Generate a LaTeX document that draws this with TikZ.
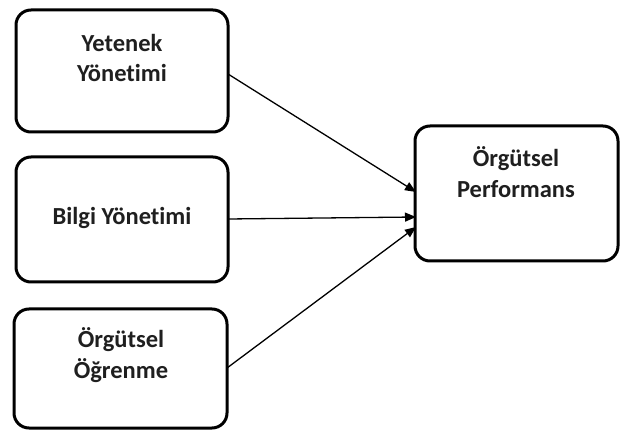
\documentclass[tikz,border=0pt]{standalone}
\usepackage{fontspec}
\setmainfont{Carlito}[Ligatures={NoCommon}]
\usetikzlibrary{arrows.meta}
\begin{document}
\begin{tikzpicture}[x=1pt,y=-1pt,
  box/.style={draw=black, line width=3pt, rounded corners=15pt, fill=white},
  lbl/.style={font=\fontsize{24.5}{30.5}\selectfont\bfseries, align=center, text=black!88},
  conn/.style={draw=black, line width=1.3pt, -{Triangle[length=11pt,width=9pt]}}]
\useasboundingbox (0,0) rectangle (621,430);
\fill[white] (0,0) rectangle (621,430);
\draw[box] (16,10) rectangle (228,132);
\draw[box] (16,157) rectangle (228,282);
\draw[box] (14,309) rectangle (227,428);
\draw[box] (415,126) rectangle (618,261);
\coordinate (a1) at (228,74);
\coordinate (a2) at (228,219);
\coordinate (a3) at (227,368);
\coordinate (b1) at (416,192);
\coordinate (b2) at (416,217);
\coordinate (b3) at (416,227);
\node[lbl] (t1) at (122,58) {Yetenek\\Yönetimi};
\node[lbl] (t2) at (122,218) {Bilgi Yönetimi};
\node[lbl] (t3) at (121,355) {Örgütsel\\Öğrenme};
\node[lbl] (t4) at (516,172) {Örgütsel\\Performans};
\draw[conn] (a1) -- (b1);
\draw[conn] (a2) -- (b2);
\draw[conn] (a3) -- (b3);
\end{tikzpicture}
\end{document}
